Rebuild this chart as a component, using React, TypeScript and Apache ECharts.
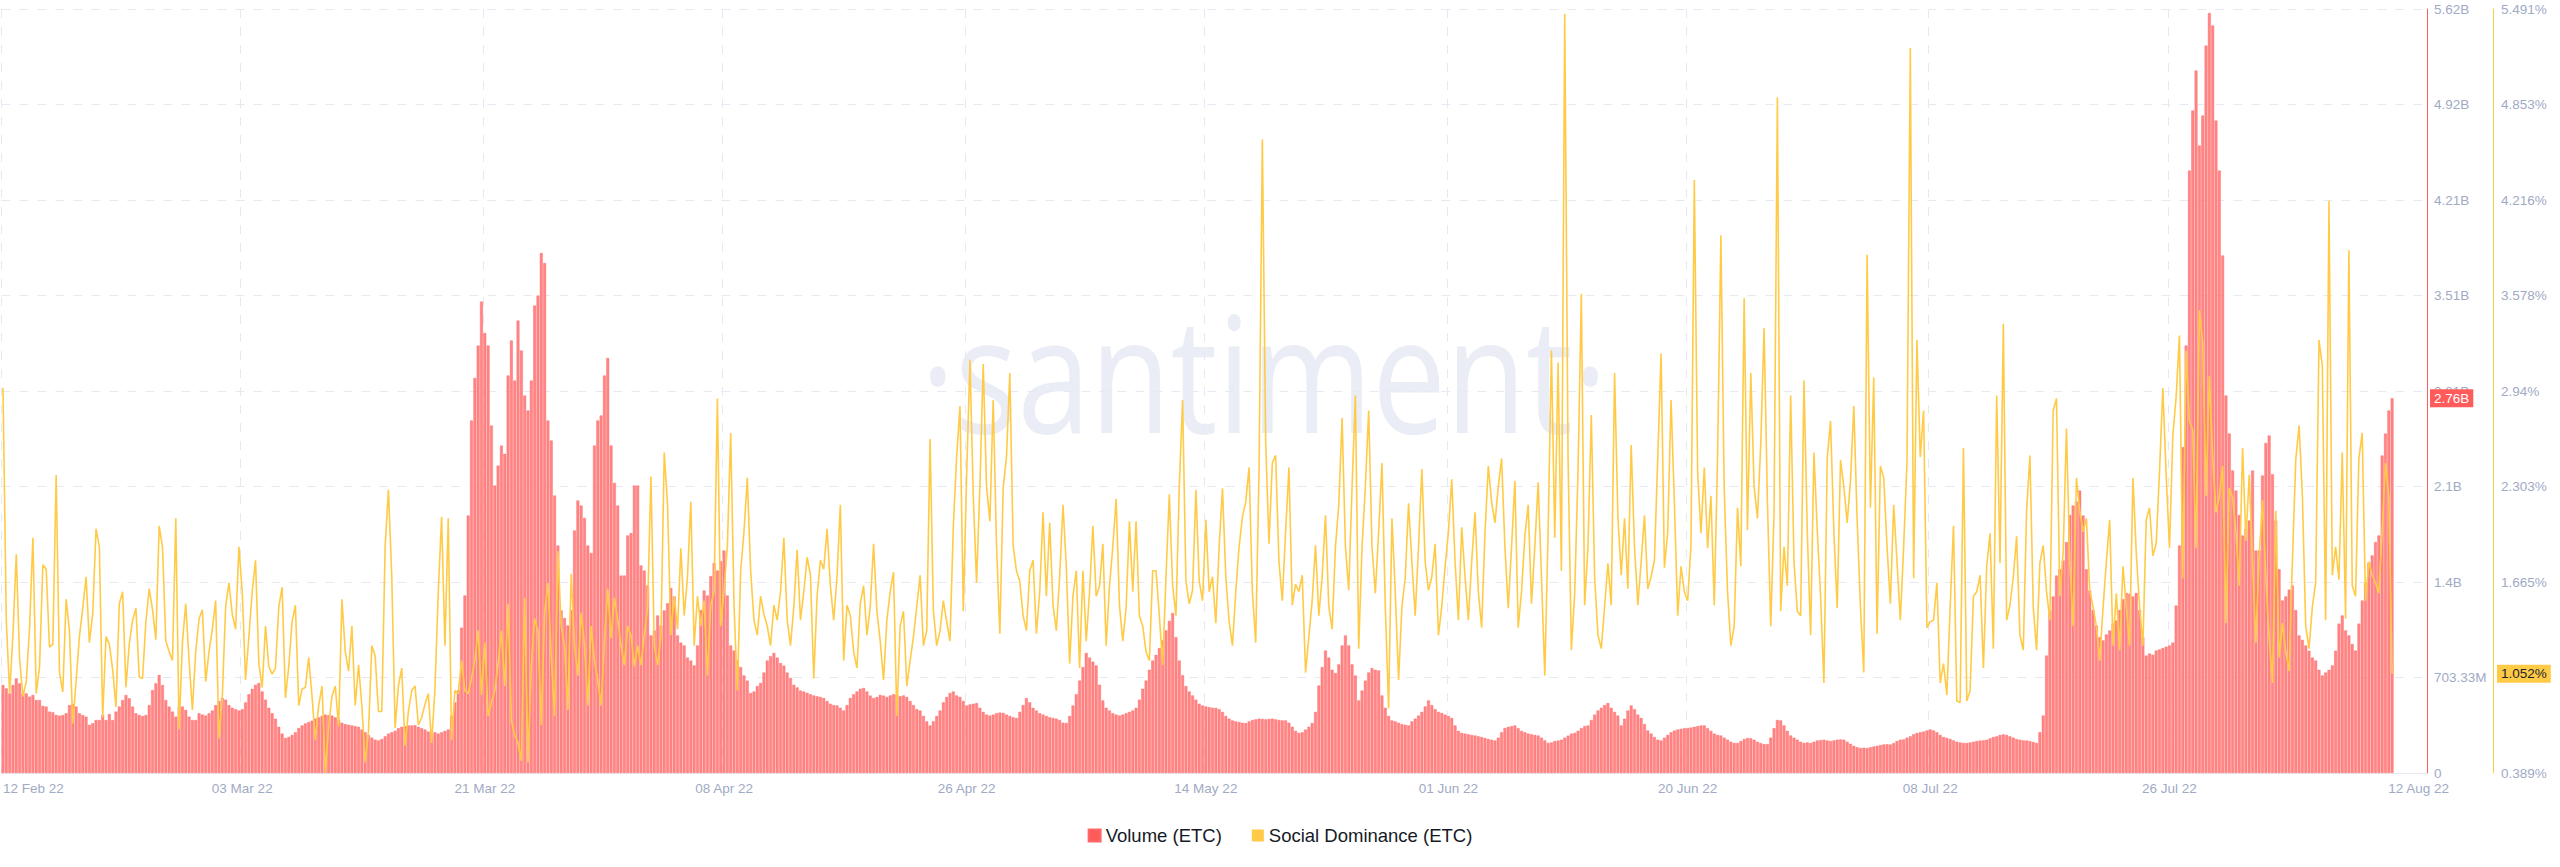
import React, { useEffect, useRef } from 'react';
import * as echarts from 'echarts';

// Volume (ETC), millions USD, one value every 6 hours
const VOLUME_M = [
  648,623,586,648,697,660,586,586,562,574,
  537,537,494,489,452,447,427,422,427,440,
  500,508,489,440,427,415,354,366,390,390,
  427,390,434,390,452,489,537,574,550,489,
  440,427,420,427,500,611,660,722,648,537,
  489,452,415,489,489,464,415,390,390,440,
  430,423,440,460,500,530,552,540,500,480,
  470,460,470,520,580,620,650,663,600,540,
  480,440,400,340,290,258,265,280,300,331,
  350,365,375,385,400,410,420,430,425,423,
  410,390,370,360,355,350,345,340,320,300,
  280,260,245,240,250,270,290,300,310,330,
  340,345,350,350,352,340,330,320,305,295,
  300,290,300,310,320,420,520,610,1070,1307,
  1896,2596,2909,3148,3472,3240,3148,2559,2117,2264,
  2411,2350,2927,3185,2890,3332,3111,2780,2669,2890,
  3443,3516,3829,3756,2596,2449,2043,1675,1197,1141,
  1086,1200,1786,2007,1969,1878,1675,1620,2412,2596,
  2633,2927,3056,2412,2136,1970,1454,1454,1749,1767,
  2117,2117,1528,1491,1381,1013,1049,1160,1086,1197,
  1250,1362,1300,1013,960,939,850,828,792,939,
  1200,1344,1307,1450,1546,1491,1560,1638,1307,939,
  902,828,780,718,680,589,600,640,663,740,
  828,860,884,850,810,790,740,700,650,630,
  607,600,590,580,571,565,560,552,530,510,
  500,497,480,460,500,552,580,600,620,626,
  600,570,552,560,575,570,560,571,580,575,
  565,571,560,530,500,470,460,420,380,350,
  380,420,460,520,560,589,600,571,560,530,
  497,505,510,515,480,450,430,423,430,440,
  445,442,430,420,410,405,450,500,552,520,
  480,460,440,430,420,410,405,400,390,370,
  368,420,497,580,681,780,884,850,820,792,
  650,534,480,460,440,430,423,430,440,450,
  460,480,540,620,681,760,828,870,920,976,
  1050,1120,1178,1000,828,720,640,600,571,540,
  510,497,490,485,480,479,470,450,420,400,
  387,380,375,370,368,380,390,395,400,398,
  395,398,400,395,390,387,387,370,340,310,
  295,300,320,340,368,450,644,780,902,850,
  760,736,800,939,1013,939,800,718,534,607,
  680,740,773,760,755,571,480,420,387,380,
  370,360,355,350,380,400,423,450,490,534,
  500,470,450,442,430,420,405,350,310,295,
  290,285,280,276,270,265,258,250,245,239,
  260,300,331,340,345,350,330,310,300,290,
  285,280,276,260,240,221,225,235,239,245,
  260,275,290,295,310,330,345,350,390,430,
  460,480,500,515,480,450,423,350,400,460,
  497,470,430,405,360,313,290,265,245,239,
  260,280,300,313,320,325,330,331,335,340,
  345,350,350,330,310,290,280,276,260,245,
  230,221,221,235,250,258,255,245,230,220,
  213,213,260,330,390,387,350,310,276,260,
  245,230,221,225,221,230,239,242,245,239,
  235,240,245,247,245,230,215,200,190,184,
  186,184,190,195,200,205,210,212,210,220,
  235,245,247,260,270,285,295,300,305,313,
  320,313,300,280,265,258,250,240,230,225,
  221,221,225,230,235,239,240,245,255,265,
  270,280,284,280,270,260,250,245,240,239,
  235,228,221,300,423,865,1197,1300,1454,1500,
  1565,1700,1900,1970,2000,2080,1896,1500,1344,1200,
  1086,1000,976,1020,1049,1100,1123,1200,1280,1326,
  1320,1300,1326,1200,1000,865,880,870,902,910,
  920,930,939,960,1233,1675,2400,3148,4437,4879,
  5173,4621,4842,5357,5597,5505,4805,4437,3811,2780,
  2500,2228,2080,1900,1749,1800,1859,2228,1638,1638,
  2191,2430,2485,2200,1859,1500,1270,1300,1350,1381,
  1200,1013,980,939,900,850,828,760,718,740,
  760,792,900,1100,1160,1050,1013,950,902,1100,
  1270,1400,1550,1602,1700,1749,2338,2500,2670,2760,
];

// Social Dominance (ETC), percent
const SOCIAL_DOMINANCE = [
  2.96,1.4,0.92,1.32,1.85,1.15,0.9,1.0,1.36,1.96,
  0.92,1.1,1.78,1.75,1.23,1.25,2.38,1.06,0.93,1.55,
  1.34,0.72,1.0,1.3,1.49,1.7,1.26,1.45,2.02,1.9,
  0.76,1.3,1.25,1.08,0.83,1.52,1.6,0.96,1.25,1.41,
  1.49,1.03,1.02,1.4,1.62,1.48,1.28,2.04,1.9,1.27,
  1.2,1.14,2.09,0.68,1.26,1.52,1.14,0.81,1.2,1.42,
  1.48,1.0,1.2,1.35,1.54,0.62,0.9,1.5,1.66,1.45,
  1.35,1.9,1.6,1.01,1.3,1.6,1.81,1.12,0.96,1.37,
  1.1,1.05,1.09,1.5,1.63,0.89,1.1,1.4,1.51,0.84,
  0.95,0.96,1.16,0.9,0.61,0.84,0.97,0.39,0.7,0.9,
  0.97,0.7,1.55,1.2,1.07,1.37,0.84,1.11,0.84,0.46,
  0.67,1.24,1.17,0.8,0.8,1.9,2.28,1.7,0.69,0.97,
  1.09,0.57,0.8,0.94,0.97,0.71,0.76,0.85,0.92,0.59,
  0.95,1.6,2.1,1.24,2.09,0.61,0.94,0.92,1.14,0.94,
  0.92,1.02,1.14,1.34,0.91,1.26,0.77,0.86,0.94,1.12,
  1.34,0.97,1.52,0.74,0.64,0.59,0.47,1.56,0.46,1.11,
  1.42,1.34,0.71,1.46,1.66,1.17,0.77,1.87,1.37,1.24,
  0.81,1.72,1.24,1.04,1.46,1.24,0.84,1.37,1.14,1.01,
  0.84,1.27,1.62,1.29,1.56,1.41,1.24,1.11,1.37,1.31,
  1.1,1.24,1.11,1.31,1.5,2.37,1.24,1.11,1.3,2.53,
  2.18,1.31,1.57,1.35,1.89,1.44,1.7,2.2,1.24,1.57,
  1.37,1.54,1.04,1.51,1.6,2.89,1.37,1.61,1.9,2.66,
  1.51,0.94,1.74,2.0,2.36,1.74,1.41,1.31,1.57,1.45,
  1.37,1.24,1.51,1.41,1.6,1.96,1.41,1.24,1.5,1.88,
  1.41,1.6,1.83,1.71,1.02,1.57,1.81,1.75,2.02,1.64,
  1.41,1.7,2.18,1.14,1.51,1.44,1.2,1.09,1.52,1.64,
  1.31,1.5,1.92,1.47,1.27,1.01,1.41,1.6,1.73,0.77,
  1.37,1.47,0.97,1.14,1.3,1.5,1.71,1.24,1.34,2.62,
  1.47,1.24,1.34,1.54,1.4,1.27,2.04,2.5,2.84,1.47,
  2.37,3.15,2.24,1.66,2.31,3.12,2.3,2.07,2.88,1.91,
  1.32,2.29,2.5,3.06,1.91,1.74,1.67,1.44,1.34,1.74,
  1.81,1.32,1.6,2.13,1.57,2.06,1.51,1.34,1.7,2.18,
  1.77,1.12,1.57,1.74,1.09,1.74,1.27,1.6,2.04,1.57,
  1.64,1.92,1.24,1.64,1.9,2.22,1.51,1.27,1.49,2.07,
  1.6,2.07,1.44,1.37,1.2,1.14,1.74,1.74,1.44,1.11,
  1.7,2.25,1.64,1.44,2.3,2.88,1.67,1.52,1.61,2.28,
  1.67,1.54,2.08,1.6,1.7,1.39,1.9,2.29,1.7,1.4,
  1.24,1.6,1.9,2.1,2.2,2.43,1.6,1.26,2.4,4.62,
  2.6,1.92,2.46,2.51,1.8,1.54,2.0,2.43,1.51,1.65,
  1.6,1.71,1.06,1.3,1.54,1.91,1.44,1.7,2.11,1.5,
  1.35,1.9,2.18,2.76,1.9,1.61,2.3,2.91,1.22,1.9,
  2.3,2.81,1.9,1.59,2.0,2.46,1.5,0.82,2.09,1.6,
  1.01,1.5,1.69,2.19,1.8,1.44,1.9,2.42,1.8,1.61,
  1.7,1.92,1.31,1.5,1.77,2.0,2.35,1.8,1.41,2.03,
  1.7,1.41,1.8,2.13,1.6,1.36,1.99,2.44,2.2,2.06,
  2.3,2.49,1.9,1.49,1.9,2.34,1.36,1.6,1.97,2.18,
  1.52,1.9,2.33,1.7,1.04,2.0,3.21,1.96,3.13,1.74,
  5.46,2.5,1.21,1.59,2.4,3.59,1.51,1.9,2.78,1.7,
  1.31,1.22,1.5,1.79,1.51,3.06,2.1,1.71,2.09,1.62,
  2.58,1.9,1.51,1.8,2.11,1.62,1.7,1.81,2.5,3.19,
  1.76,2.0,2.88,2.2,1.44,1.77,1.6,1.54,1.91,4.35,
  2.4,1.99,2.43,1.89,2.24,1.51,2.5,3.98,2.28,1.6,
  1.24,1.37,2.16,1.77,3.56,2.01,3.06,2.3,2.09,2.59,
  3.36,2.2,1.37,2.13,4.9,1.47,1.9,1.64,2.91,1.8,
  1.47,1.44,3.01,2.0,1.31,2.53,2.01,1.57,0.99,2.49,
  2.74,2.0,1.49,2.48,2.3,2.06,2.34,2.84,2.08,1.5,
  1.06,3.85,2.16,3.03,1.32,2.44,2.36,1.9,1.52,2.18,
  1.8,1.41,1.9,2.46,5.23,1.69,3.28,2.5,2.81,1.36,
  1.4,1.41,1.66,0.99,1.12,0.91,1.5,2.04,0.87,0.86,
  2.56,0.87,0.94,1.57,1.6,1.71,1.09,1.77,1.99,1.22,
  2.91,1.79,3.39,1.41,1.51,1.7,1.97,1.31,1.21,2.14,
  2.51,1.5,1.21,1.79,1.91,1.6,1.41,2.81,2.89,1.57,
  1.86,2.69,1.8,1.37,2.36,2.14,2.0,2.09,1.61,1.5,
  1.37,1.14,1.49,1.8,2.08,1.24,1.59,1.21,1.77,1.5,
  1.24,2.36,1.86,1.5,1.24,2.08,2.16,1.84,1.92,2.4,
  2.96,2.38,1.89,2.64,2.9,3.31,1.69,3.21,2.74,2.68,
  1.89,3.48,3.26,2.24,3.04,2.5,2.13,2.24,2.44,1.39,
  2.29,2.23,2.0,1.64,2.56,1.94,2.38,1.8,1.26,1.84,
  2.21,1.7,1.29,0.99,2.14,1.16,1.39,1.2,1.07,1.81,
  2.48,2.71,2.24,1.37,1.22,1.5,1.66,3.28,3.11,1.41,
  4.21,1.71,1.9,1.68,2.53,1.42,3.88,1.64,1.57,2.49,
  2.66,1.54,1.8,1.71,1.66,1.59,2.0,2.46,2.24,1.052,
];

const TICK_INDEX = [0, 72, 145, 217, 290, 362, 435, 507, 580, 652, 727];
const TICK_TEXT = ['12 Feb 22', '03 Mar 22', '21 Mar 22', '08 Apr 22', '26 Apr 22', '14 May 22', '01 Jun 22', '20 Jun 22', '08 Jul 22', '26 Jul 22', '12 Aug 22'];
const GRID_LINE_INDEX = [0, 72, 145, 217, 290, 362, 435, 507, 580, 652];

const CATEGORY_COUNT = 730;
const START_MS = Date.UTC(2022, 1, 12, 0);
const STEP_MS = 6 * 3600 * 1000;
const CATEGORIES = Array.from({ length: CATEGORY_COUNT }, (_, i) =>
  new Date(START_MS + i * STEP_MS).toISOString().slice(0, 13)
);

const VOL_INTERVAL = 703.33;
const VOL_MAX = VOL_INTERVAL * 8;
const SD_MIN = 0.3894;
const SD_INTERVAL = 0.63772;
const SD_MAX = SD_MIN + SD_INTERVAL * 8;

const FONT = '"Liberation Sans", Arial, Helvetica, sans-serif';
const AXIS_LABEL = '#9faac4';
const GRID_COLOR = '#e6e9f2';
const RED = '#ff5b5b';
const YELLOW = '#ffcb47';

function fmtVolume(v: number): string {
  if (v === 0) return '0';
  if (v < 1000) return v.toFixed(2) + 'M';
  return String(Math.floor(v / 10 + 1e-9) / 100) + 'B';
}
function fmtSD(v: number): string {
  return String(parseFloat(v.toFixed(3))) + '%';
}

export default function App() {
  const ref = useRef<HTMLDivElement>(null);
  useEffect(() => {
    if (!ref.current) return;
    const chart = echarts.init(ref.current, null, { renderer: 'svg' });
    const tickMap: Record<number, string> = {};
    TICK_INDEX.forEach((idx, k) => (tickMap[idx] = TICK_TEXT[k]));
    const gridSet = new Set(GRID_LINE_INDEX);
    const lastVol = VOLUME_M[VOLUME_M.length - 1];
    const lastSD = SOCIAL_DOMINANCE[SOCIAL_DOMINANCE.length - 1];

    chart.setOption({
      animation: false,
      textStyle: { fontFamily: FONT },
      graphic: [
        {
          type: 'text',
          z: 0,
          silent: true,
          x: 1264,
          y: 370,
          scaleX: 0.81,
          style: {
            text: '·santiment·',
            fill: '#eaedf5',
            font: '162px "Open Sans", sans-serif',
            textAlign: 'center',
            textVerticalAlign: 'middle',
          },
        },
      ],
      legend: {
        top: 821,
        left: 'center',
        icon: 'rect',
        itemWidth: 12,
        itemHeight: 12,
        itemGap: 30,
        textStyle: { fontSize: 18.5, color: '#161a26', fontFamily: FONT },
        data: [
          { name: 'Volume (ETC)', itemStyle: { color: RED } },
          { name: 'Social Dominance (ETC)', itemStyle: { color: YELLOW } },
        ],
      },
      grid: { left: 0, right: 133, top: 9, bottom: 94, containLabel: false },
      xAxis: {
        type: 'category',
        data: CATEGORIES,
        boundaryGap: true,
        axisLine: { show: true, lineStyle: { color: GRID_COLOR, width: 1 } },
        axisTick: { show: false },
        axisLabel: {
          interval: (index: number) => tickMap[index] !== undefined,
          formatter: (_v: string, index: number) => tickMap[index] || '',
          color: AXIS_LABEL,
          fontSize: 13.5,
          margin: 8,
          alignMinLabel: 'left',
        },
        splitLine: {
          show: true,
          interval: (index: number) => gridSet.has(index),
          lineStyle: { color: GRID_COLOR, type: [9, 9], width: 1 },
        },
      },
      yAxis: [
        {
          type: 'value',
          position: 'right',
          min: 0,
          max: VOL_MAX,
          interval: VOL_INTERVAL,
          axisLine: { show: true, lineStyle: { color: RED, width: 1 } },
          axisTick: { show: false },
          axisLabel: { color: AXIS_LABEL, fontSize: 13.5, margin: 7, formatter: (v: number) => fmtVolume(v) },
          splitLine: { show: true, lineStyle: { color: GRID_COLOR, type: [9, 9], width: 1 } },
          axisPointer: {
            show: true,
            type: 'line',
            status: 'show',
            value: lastVol,
            triggerTooltip: false,
            lineStyle: { opacity: 0, width: 0 },
            label: {
              show: true,
              formatter: () => fmtVolume(lastVol),
              backgroundColor: RED,
              color: '#ffffff',
              fontSize: 13.5,
              fontFamily: FONT,
              padding: [2, 4, 2, 4],
              margin: 3,
              borderRadius: 0,
            },
          },
        },
        {
          type: 'value',
          position: 'right',
          offset: 66,
          min: SD_MIN,
          max: SD_MAX,
          interval: SD_INTERVAL,
          axisLine: { show: true, lineStyle: { color: YELLOW, width: 1 } },
          axisTick: { show: false },
          axisLabel: { color: AXIS_LABEL, fontSize: 13.5, margin: 8, formatter: (v: number) => fmtSD(v) },
          splitLine: { show: false },
          axisPointer: {
            show: true,
            type: 'line',
            status: 'show',
            value: lastSD,
            triggerTooltip: false,
            lineStyle: { opacity: 0, width: 0 },
            label: {
              show: true,
              formatter: () => fmtSD(lastSD),
              backgroundColor: YELLOW,
              color: '#1b1f2b',
              fontSize: 13.5,
              fontFamily: FONT,
              padding: [2, 4, 2, 4],
              margin: 4,
              borderRadius: 0,
            },
          },
        },
      ],
      series: [
        {
          name: 'Volume (ETC)',
          type: 'bar',
          yAxisIndex: 0,
          data: VOLUME_M,
          barCategoryGap: '14%',
          itemStyle: { color: '#ff8585', borderColor: '#ff6868', borderWidth: 0.4 },
          emphasis: { disabled: true },
          z: 2,
        },
        {
          name: 'Social Dominance (ETC)',
          type: 'line',
          yAxisIndex: 1,
          data: SOCIAL_DOMINANCE,
          showSymbol: false,
          symbol: 'none',
          lineStyle: { color: YELLOW, width: 1.6 },
          itemStyle: { color: YELLOW },
          emphasis: { disabled: true },
          z: 3,
        },
      ],
    });
    return () => chart.dispose();
  }, []);
  return <div ref={ref} style={{ position: 'absolute', left: 0, top: 0, width: 2560, height: 867 }} />;
}
